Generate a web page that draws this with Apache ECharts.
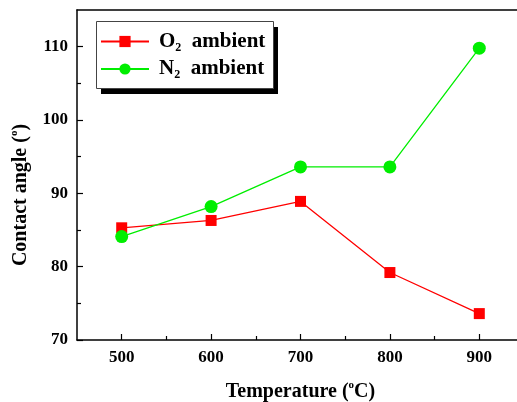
<!DOCTYPE html>
<html>
<head>
<meta charset="utf-8">
<script src="https://cdn.jsdelivr.net/npm/echarts@6/dist/echarts.min.js"></script>
<style>
  html, body { margin: 0; padding: 0; background: #fff; }
  #chart { width: 517px; height: 402px; }
</style>
</head>
<body>
<div id="chart"></div>
<script>
// temperatures (°C)
const temps = [500, 600, 700, 800, 900];
// contact angles
const o2Angle = [85.3, 86.3, 88.9, 79.2, 73.6];
const n2Angle = [84.1, 88.2, 93.6, 93.6, 109.8];
// tick positions
const xMajor = [500, 600, 700, 800, 900];
const xMinor = [550, 650, 750, 850];
const yMajor = [70, 80, 90, 100, 110];
const yMinor = [75, 85, 95, 105];

const font = 'Liberation Serif';
const chart = echarts.init(document.getElementById('chart'));

const pairs = arr => temps.map((t, i) => [t, arr[i]]);

const axisLine = { show: true, lineStyle: { color: '#000', width: 1.5 } };

chart.setOption({
  animation: false,
  backgroundColor: '#fff',
  grid: { left: 77, top: 10, width: 447, height: 330, outerBoundsMode: 'none' },
  // legend frame with its hard black drop shadow
  graphic: [
    { type: 'rect', left: 101, top: 27, z: 1, shape: { width: 177, height: 67 }, style: { fill: '#000' } },
    { type: 'rect', left: 96, top: 21, z: 2, shape: { width: 177, height: 67 }, style: { fill: '#fff', stroke: '#444', lineWidth: 1 } }
  ],
  legend: {
    left: 100, top: 31, z: 10,
    orient: 'vertical',
    itemWidth: 48, itemHeight: 14, itemGap: 5,
    padding: 0,
    formatter: name => name === 'O2' ? '{t0|O}{sub|2}{t|  ambient}' : '{t0|N}{sub|2}{t|  ambient}',
    textStyle: {
      rich: {
        t0: { fontFamily: font, fontWeight: 'bold', fontSize: 21, color: '#000', padding: [0, 0, 0, 5] },
        t: { fontFamily: font, fontWeight: 'bold', fontSize: 21, color: '#000' },
        sub: { fontFamily: font, fontWeight: 'bold', fontSize: 12, color: '#000', padding: [12, 0, 0, 0] }
      }
    },
    data: ['O2', 'N2']
  },
  xAxis: [
    {
      type: 'value', min: 450, max: 950, position: 'bottom',
      axisLine,
      splitLine: { show: false },
      axisTick: { show: true, inside: true, length: 6, customValues: xMajor, lineStyle: { color: '#000', width: 1.2 } },
      axisLabel: { customValues: xMajor, margin: 9, fontFamily: font, fontWeight: 'bold', fontSize: 17, color: '#000' },
      name: '{t|Temperature (}{sup|o}{t|C)}',
      nameLocation: 'middle', nameGap: 40,
      nameTextStyle: {
        rich: {
          t: { fontFamily: font, fontWeight: 'bold', fontSize: 20, color: '#000' },
          sup: { fontFamily: font, fontWeight: 'bold', fontSize: 11, color: '#000', padding: [0, 0, 12, 0] }
        }
      }
    },
    {
      type: 'value', min: 450, max: 950, position: 'bottom',
      axisLine: { show: false },
      splitLine: { show: false },
      axisTick: { show: true, inside: true, length: 4, customValues: xMinor, lineStyle: { color: '#000', width: 1.2 } },
      axisLabel: { show: false }
    },
    {
      type: 'value', min: 450, max: 950, position: 'top',
      axisLine,
      splitLine: { show: false },
      axisTick: { show: false },
      axisLabel: { show: false }
    }
  ],
  yAxis: [
    {
      type: 'value', min: 70, max: 115, position: 'left',
      axisLine,
      splitLine: { show: false },
      axisTick: { show: true, inside: true, length: 6, customValues: yMajor, lineStyle: { color: '#000', width: 1.2 } },
      axisLabel: { customValues: yMajor, margin: 9, fontFamily: font, fontWeight: 'bold', fontSize: 17, color: '#000' },
      name: '{t|Contact angle (}{sup|o}{t|)}',
      nameLocation: 'middle', nameGap: 45,
      nameTextStyle: {
        padding: [0, 40, 0, 0],
        rich: {
          t: { fontFamily: font, fontWeight: 'bold', fontSize: 20, color: '#000' },
          sup: { fontFamily: font, fontWeight: 'bold', fontSize: 11, color: '#000', padding: [0, 0, 12, 0] }
        }
      }
    },
    {
      type: 'value', min: 70, max: 115, position: 'left',
      axisLine: { show: false },
      splitLine: { show: false },
      axisTick: { show: true, inside: true, length: 4, customValues: yMinor, lineStyle: { color: '#000', width: 1.2 } },
      axisLabel: { show: false }
    }
  ],
  series: [
    {
      name: 'O2', type: 'line',
      data: pairs(o2Angle),
      symbol: 'rect', symbolSize: 11,
      color: '#ff0000',
      lineStyle: { width: 1.3, color: '#ff0000' },
      itemStyle: { color: '#ff0000' }
    },
    {
      name: 'N2', type: 'line',
      data: pairs(n2Angle),
      symbol: 'circle', symbolSize: 13,
      color: '#00ee00',
      lineStyle: { width: 1.3, color: '#00ee00' },
      itemStyle: { color: '#00ee00' }
    }
  ]
});
</script>
</body>
</html>
